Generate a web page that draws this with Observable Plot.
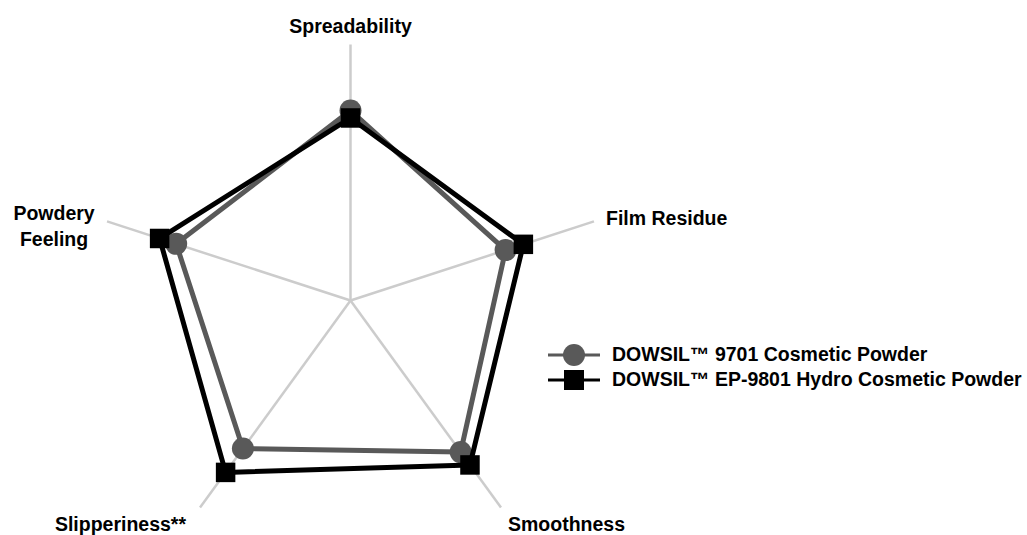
<!DOCTYPE html>
<html><head><meta charset="utf-8">
<script src="https://cdn.jsdelivr.net/npm/d3@7"></script>
<script src="https://cdn.jsdelivr.net/npm/@observablehq/plot@0.6"></script>
<style>
body{margin:0;background:#fff;font-family:"Liberation Sans",Arial,sans-serif;}
#wrap{position:relative;width:1027px;height:535px;}
#legend{position:absolute;left:548px;top:342px;font-weight:bold;font-size:19.5px;color:#000;}
.row{display:flex;align-items:center;height:25px;white-space:nowrap;}
.row svg{margin-right:12px;flex:none;}
</style></head><body><div id="wrap"><div id="chart"></div><div id="legend"></div></div>
<script>
const axes = ["Spreadability", "Film Residue", "Smoothness", "Slipperiness**", "Powdery\nFeeling"];
const series9701 = [7.42, 6.37, 7.32, 7.15, 7.16];
const seriesEP9801 = [7.13, 7.10, 7.94, 8.30, 7.84];
const seriesNames = ["DOWSIL™ 9701 Cosmetic Powder", "DOWSIL™ EP-9801 Hydro Cosmetic Powder"];
const axisMax = 10;

// layout
const W = 1027, H = 535, cx = 350, cy = 300, pxPerUnit = 25.6;
const labelAnchor = ["middle", "start", "start", "end", "middle"];
const labelDx = [0, 12, 7, -14, -53];
const labelDy = [-20, -5, 15, 15, 3];

const ang = i => (90 - 72 * i) * Math.PI / 180;
const toPt = (v, i) => ({x: v * Math.cos(ang(i)), y: v * Math.sin(ang(i))});

const spokes = axes.map((a, i) => ({x1: 0, y1: 0, ...(({x, y}) => ({x2: x, y2: y}))(toPt(axisMax, i))}));
const labels = axes.map((a, i) => ({label: a, ...toPt(axisMax, i), anchor: labelAnchor[i], dx: labelDx[i], dy: labelDy[i]}));
const pts9701 = series9701.map((v, i) => toPt(v, i));
const ptsEP = seriesEP9801.map((v, i) => toPt(v, i));

const gray = "#595959";
const plot = Plot.plot({
  width: W, height: H,
  marginTop: 0, marginBottom: 0, marginLeft: 0, marginRight: 0,
  x: {domain: [-cx / pxPerUnit, (W - cx) / pxPerUnit], axis: null},
  y: {domain: [-(H - cy) / pxPerUnit, cy / pxPerUnit], axis: null},
  style: {fontFamily: "'Liberation Sans', Arial, sans-serif", background: "#fff"},
  marks: [
    Plot.link(spokes, {x1: "x1", y1: "y1", x2: "x2", y2: "y2", stroke: "#cccccc", strokeWidth: 2.5}),
    Plot.line(pts9701, {x: "x", y: "y", curve: "linear-closed", stroke: gray, strokeWidth: 5, strokeLinejoin: "round"}),
    Plot.dot(pts9701, {x: "x", y: "y", r: 11, fill: gray, symbol: "circle"}),
    Plot.line(ptsEP, {x: "x", y: "y", curve: "linear-closed", stroke: "#000", strokeWidth: 5, strokeLinejoin: "miter"}),
    Plot.dot(ptsEP, {x: "x", y: "y", r: 11, fill: "#000", symbol: "square"}),
    ...labels.map(l => Plot.text([l], {x: "x", y: "y", text: "label", textAnchor: l.anchor, dx: l.dx, dy: l.dy,
      fontSize: 19.5, fontWeight: "bold", fill: "#000", lineHeight: 1.33}))
  ]
});
document.getElementById("chart").append(plot);

// legend
const legend = document.getElementById("legend");
seriesNames.forEach((name, i) => {
  const row = document.createElement("div");
  row.className = "row";
  const marker = i === 0
    ? `<circle cx="26" cy="12" r="11" fill="${gray}"/>`
    : `<rect x="16" y="2" width="20" height="20" fill="#000"/>`;
  row.innerHTML = `<svg width="52" height="24"><line x1="0" x2="52" y1="12" y2="12" stroke="${i === 0 ? gray : '#000'}" stroke-width="3"/>${marker}</svg><span>${name}</span>`;
  legend.append(row);
});
</script>
</body></html>
